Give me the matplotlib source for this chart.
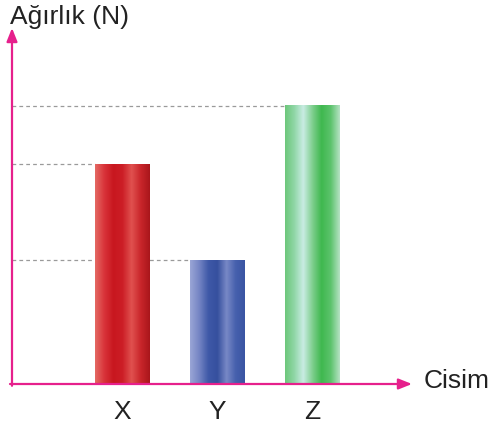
import numpy as np
import matplotlib
matplotlib.use("Agg")
import matplotlib.pyplot as plt
from matplotlib.colors import LinearSegmentedColormap

# bodies and their weights (relative units, no scale shown)
cisimler = ["X", "Y", "Z"]
agirliklar = [7.9, 4.45, 10.0]

# cylinder-like shading stops for each bar, left to right
golgeler = [
    ["#e46a64", "#d9343a", "#c8171f", "#cc1e26", "#e0514f", "#c9262b", "#a9161b"],
    ["#9aa6d6", "#7585c4", "#3f59a8", "#36509e", "#7888c6", "#4660ad", "#3a55a3"],
    ["#6cc77a", "#8fd6a6", "#c9ece3", "#7fcf8f", "#3fb84f", "#5cc36c", "#b6e2c4"],
]

pembe = "#e6208c"
yazi = dict(fontsize=19, family="Liberation Sans", color="#222222")

fig = plt.figure(figsize=(4.92, 4.30), dpi=100)
ax = fig.add_axes([12 / 492, 46 / 430, 400 / 492, 356 / 430])
ax.set_xlim(-0.158, 4.053)
ax.set_ylim(0, 12.8)
ax.axis("off")

w = 0.57
grad = np.linspace(0, 1, 256).reshape(1, -1)
for i, (ad, deger) in enumerate(zip(cisimler, agirliklar)):
    x = i + 1
    cmap = LinearSegmentedColormap.from_list("g%d" % i, golgeler[i])
    ax.imshow(grad, cmap=cmap, aspect="auto", extent=(x - w / 2, x + w / 2, 0, deger),
              zorder=3, interpolation="bilinear")
    # dashed guide from the vertical axis to the bar top
    ax.plot([ax.get_xlim()[0], x - w / 2], [deger, deger], color="#9a9a9a",
            lw=0.9, ls=(0, (3, 2.5)), zorder=1)
    ax.text(x, -1.0, ad, ha="center", va="center", **yazi)

ax.set_xlim(-0.158, 4.053)
ax.set_ylim(0, 12.8)

# axes drawn as arrows
ax.annotate("", xy=(1.0, 0), xytext=(-0.005, 0), xycoords="axes fraction",
            arrowprops=dict(arrowstyle="-|>,head_length=0.8,head_width=0.32",
                            color=pembe, lw=1.6, shrinkA=0, shrinkB=0), zorder=5)
ax.annotate("", xy=(0, 1.0), xytext=(0, -0.005), xycoords="axes fraction",
            arrowprops=dict(arrowstyle="-|>,head_length=0.8,head_width=0.32",
                            color=pembe, lw=1.6, shrinkA=0, shrinkB=0), zorder=5)

fig.text(10 / 492, 1 - 17 / 430, "Ağırlık (N)", ha="left", va="center", **yazi)
fig.text(424 / 492, 1 - 381 / 430, "Cisim", ha="left", va="center", **yazi)

fig.savefig("out.png", dpi=100)
